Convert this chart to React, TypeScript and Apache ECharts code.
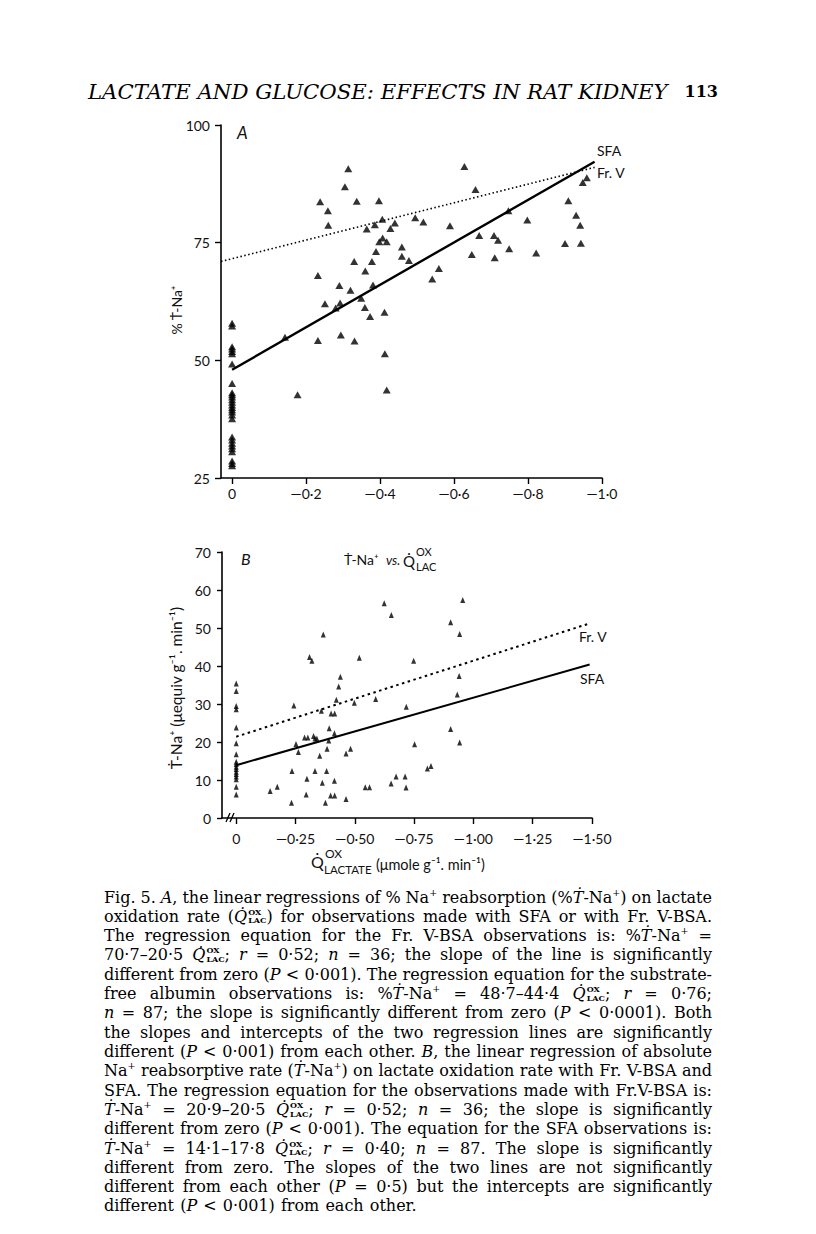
import React, { useEffect, useRef } from 'react';
import * as echarts from 'echarts';

// ---------- DATA ----------
const xTicksA = [0, -0.2, -0.4, -0.6, -0.8, -1.0];
const yTicksA = [25, 50, 75, 100];
const xTicksB = [0, -0.25, -0.5, -0.75, -1.0, -1.25, -1.5];
const yTicksB = [0, 10, 20, 30, 40, 50, 60, 70];

// Panel A: % T-Na+ observations at zero lactate oxidation
const zeroA = [57.9, 57.3, 52.9, 52.4, 51.9, 51.4, 49.2, 45.1, 43.1, 42.7, 42.2, 41.6, 41.1, 40.5, 40.0,
  39.5, 39.0, 38.4, 37.6, 33.7, 33.1, 32.4, 31.8, 31.2, 30.6, 28.6, 28.1, 27.6];
// Panel A: other observations [Q_LAC, %T-Na+]
const pointsA: [number, number][] = [
  [-0.314, 90.7], [-0.305, 86.9], [-0.238, 83.7], [-0.337, 83.8], [-0.397, 83.9], [-0.259, 81.8],
  [-0.26, 78.7], [-0.406, 80.0], [-0.386, 78.8], [-0.364, 77.9], [-0.428, 78.0], [-0.44, 79.2],
  [-0.495, 80.3], [-0.517, 79.4], [-0.407, 76.0], [-0.398, 75.2], [-0.418, 75.2], [-0.459, 74.1],
  [-0.459, 72.1], [-0.478, 71.2], [-0.389, 73.1], [-0.378, 71.0], [-0.33, 71.0], [-0.36, 69.0],
  [-0.232, 68.0], [-0.29, 65.9], [-0.32, 64.9], [-0.381, 66.0], [-0.349, 63.2], [-0.251, 62.0],
  [-0.292, 62.2], [-0.28, 61.1], [-0.359, 61.2], [-0.541, 67.3], [-0.373, 59.3], [-0.412, 60.2],
  [-0.143, 54.9], [-0.232, 54.2], [-0.294, 55.4], [-0.331, 54.1], [-0.413, 51.4], [-0.418, 43.7],
  [-0.177, 42.7], [-0.628, 91.2], [-0.658, 86.3], [-0.589, 78.6], [-0.747, 81.8], [-0.798, 79.8],
  [-0.668, 76.5], [-0.708, 76.5], [-0.719, 75.5], [-0.749, 73.7], [-0.648, 72.5], [-0.71, 71.8],
  [-0.822, 72.8], [-0.559, 69.5], [-0.909, 83.9], [-0.93, 80.8], [-0.941, 78.7], [-0.90, 74.8],
  [-0.943, 74.9], [-0.959, 88.8], [-0.948, 87.8],
];
const sfaLineA: [number, number][] = [[0, 48.0], [-0.98, 92.2]];
const frVLineA: [number, number][] = [[0.03, 71.0], [-0.98, 91.0]];

// Panel B: T-Na+ (µequiv/g/min) at zero lactate oxidation
const zeroB = [35.4, 33.4, 29.5, 28.6, 23.8, 19.7, 16.8, 14.8, 14.2, 13.5, 12.9, 12.2, 11.6, 10.9, 10.2, 8.2, 6.2];
// Panel B: other observations [Q_LAC, T-Na+]
const pointsB: [number, number][] = [
  [-0.309, 42.4], [-0.319, 41.4], [-0.367, 48.3], [-0.519, 42.2], [-0.439, 37.2], [-0.432, 34.6],
  [-0.422, 31.1], [-0.243, 29.6], [-0.498, 30.3], [-0.588, 31.3], [-0.624, 56.5], [-0.654, 53.4],
  [-0.955, 57.4], [-0.904, 51.5], [-0.942, 48.4], [-0.748, 41.4], [-0.94, 37.4], [-0.932, 32.5],
  [-0.717, 29.3], [-0.359, 28.2], [-0.40, 27.5], [-0.415, 27.5], [-0.392, 23.6], [-0.414, 22.3],
  [-0.288, 21.2], [-0.302, 21.2], [-0.326, 21.6], [-0.332, 20.9], [-0.34, 20.9], [-0.39, 20.4],
  [-0.252, 19.5], [-0.262, 17.4], [-0.383, 18.2], [-0.352, 16.4], [-0.463, 17.0], [-0.482, 18.2],
  [-0.235, 12.4], [-0.332, 12.4], [-0.381, 12.4], [-0.298, 10.3], [-0.363, 9.3], [-0.414, 9.8],
  [-0.143, 7.1], [-0.173, 8.2], [-0.295, 6.2], [-0.398, 5.9], [-0.415, 5.9], [-0.233, 4.0],
  [-0.463, 5.0], [-0.376, 4.0], [-0.544, 8.1], [-0.562, 8.1], [-0.653, 9.1], [-0.904, 23.4],
  [-0.942, 19.9], [-0.752, 19.4], [-0.806, 13.0], [-0.821, 13.7], [-0.674, 10.9], [-0.712, 10.9],
  [-0.716, 8.0],
];
const frVLineB: [number, number][] = [[0, 21.4], [-1.49, 51.2]];
const sfaLineB: [number, number][] = [[0, 13.9], [-1.49, 40.4]];

const headerText = 'LACTATE AND GLUCOSE: EFFECTS IN RAT KIDNEY';
const pageNumber = '113';

// caption: *italic*, ^superscript^, @Q = Q-dot with OX over LAC
const captionLines = [
  'Fig. 5. *A*, the linear regressions of % Na^+^ reabsorption (%*Ṫ*-Na^+^) on lactate',
  'oxidation rate (@Q) for observations made with SFA or with Fr. V-BSA.',
  'The regression equation for the Fr. V-BSA observations is: %*Ṫ*-Na^+^ =',
  '70·7–20·5 @Q; *r* = 0·52; *n* = 36; the slope of the line is significantly',
  'different from zero (*P* < 0·001). The regression equation for the substrate-',
  'free albumin observations is: %*Ṫ*-Na^+^ = 48·7–44·4 @Q; *r* = 0·76;',
  '*n* = 87; the slope is significantly different from zero (*P* < 0·0001). Both',
  'the slopes and intercepts of the two regression lines are significantly',
  'different (*P* < 0·001) from each other. *B*, the linear regression of absolute',
  'Na^+^ reabsorptive rate (*Ṫ*-Na^+^) on lactate oxidation rate with Fr. V-BSA and',
  'SFA. The regression equation for the observations made with Fr.V-BSA is:',
  '*Ṫ*-Na^+^ = 20·9–20·5 @Q; *r* = 0·52; *n* = 36; the slope is significantly',
  'different from zero (*P* < 0·001). The equation for the SFA observations is:',
  '*Ṫ*-Na^+^ = 14·1–17·8 @Q; *r* = 0·40; *n* = 87. The slope is significantly',
  'different from zero. The slopes of the two lines are not significantly',
  'different from each other (*P* = 0·5) but the intercepts are significantly',
  'different (*P* < 0·001) from each other.',
];

// ---------- LAYOUT HELPERS ----------
const SERIF = '"DejaVu Serif", "Liberation Serif", serif';
const SANS = 'Lato, "Open Sans", sans-serif';
const INK = '#111';

let measureCtx: CanvasRenderingContext2D | null = null;
function tw(text: string, size: number, style = 'normal', weight = 'normal', family = SERIF) {
  if (!measureCtx) measureCtx = document.createElement('canvas').getContext('2d');
  measureCtx!.font = `${style} ${weight} ${size}px ${family}`;
  return measureCtx!.measureText(text).width;
}

function txt(x: number, y: number, text: string, o: any = {}) {
  return {
    type: 'text',
    x,
    y,
    rotation: o.rotation || 0,
    silent: true,
    style: {
      text,
      fill: o.fill || INK,
      fontSize: o.size || 14,
      fontFamily: o.family || SANS,
      fontStyle: o.style || 'normal',
      fontWeight: o.weight || 'normal',
      textAlign: o.align || 'left',
      textVerticalAlign: 'middle',
      align: o.align || 'left',
      verticalAlign: 'middle',
    },
  };
}

type Piece = { t: string; k: 'n' | 'i' | 'sup' | 'q' };
function parseWord(w: string): Piece[] {
  const out: Piece[] = [];
  const re = /(\*[^*]+\*|\^[^^]+\^|@Q)/g;
  let last = 0;
  let m: RegExpExecArray | null;
  while ((m = re.exec(w))) {
    if (m.index > last) out.push({ t: w.slice(last, m.index), k: 'n' });
    const s = m[0];
    if (s === '@Q') out.push({ t: 'Q\u0307', k: 'q' });
    else if (s[0] === '*') out.push({ t: s.slice(1, -1), k: 'i' });
    else out.push({ t: s.slice(1, -1), k: 'sup' });
    last = m.index + s.length;
  }
  if (last < w.length) out.push({ t: w.slice(last), k: 'n' });
  return out;
}
const SUP = 0.6;
const STK = 0.5;
function pieceWidth(p: Piece, fs: number) {
  if (p.k === 'n') return tw(p.t, fs);
  if (p.k === 'i') return tw(p.t, fs, 'italic');
  if (p.k === 'sup') return tw(p.t, fs * SUP);
  return tw(p.t, fs, 'italic') + 1 + Math.max(tw('OX', fs * STK, 'normal', 'bold'), tw('LAC', fs * STK, 'normal', 'bold'));
}

function buildCaption(): any[] {
  const left = 104, right = 712, top = 897, step = 19.31;
  const W = right - left;
  const words = captionLines.map((l) => l.split(' ').map(parseWord));
  const wordW = (w: Piece[], fs: number) => w.reduce((s, p) => s + pieceWidth(p, fs), 0);
  let fs = 16;
  words.forEach((ws, i) => {
    if (i === words.length - 1) return;
    const sum = ws.reduce((s, w) => s + wordW(w, 15), 0);
    const fit = ((W - (ws.length - 1) * 4) / sum) * 15;
    fs = Math.min(fs, fit);
  });
  const els: any[] = [];
  words.forEach((ws, i) => {
    const y = top + i * step;
    const widths = ws.map((w) => wordW(w, fs));
    const sum = widths.reduce((a, b) => a + b, 0);
    const gap = i === words.length - 1 ? tw(' ', fs) * 1.2 : (W - sum) / (ws.length - 1);
    let x = left;
    ws.forEach((w, j) => {
      let px = x;
      w.forEach((p) => {
        if (p.k === 'n') els.push(txt(px, y, p.t, { size: fs, family: SERIF, fill: '#000' }));
        else if (p.k === 'i') els.push(txt(px, y, p.t, { size: fs, family: SERIF, style: 'italic', fill: '#000' }));
        else if (p.k === 'sup') els.push(txt(px, y - fs * 0.3, p.t, { size: fs * SUP, family: SERIF, fill: '#000' }));
        else {
          const qw = tw(p.t, fs, 'italic');
          els.push(txt(px, y, p.t, { size: fs, family: SERIF, style: 'italic', fill: '#000' }));
          els.push(txt(px + qw + 1, y - fs * 0.28, 'OX', { size: fs * STK, family: SERIF, weight: 'bold', fill: '#000' }));
          els.push(txt(px + qw + 1, y + fs * 0.26, 'LAC', { size: fs * STK, family: SERIF, weight: 'bold', fill: '#000' }));
        }
        px += pieceWidth(p, fs);
      });
      x += widths[j] + gap;
    });
  });
  return els;
}

function buildHeader(): any[] {
  const left = 88, right = 668;
  const size = (16 * (right - left)) / tw(headerText, 16, 'italic');
  return [
    txt(left, 91, headerText, { size, family: SERIF, style: 'italic', fill: '#000' }),
    txt(718, 91, pageNumber, { size: 16, family: SERIF, weight: 'bold', align: 'right', fill: '#000' }),
  ];
}

// ---------- CHART ----------
const fmtA = (v: number) => {
  if (!xTicksA.some((t) => Math.abs(t - v) < 1e-6)) return '';
  return Math.abs(v) < 1e-9 ? '0' : '—' + Math.abs(v).toFixed(1).replace('.', '·');
};
const fmtB = (v: number) => {
  if (!xTicksB.some((t) => Math.abs(t - v) < 1e-6)) return '';
  return Math.abs(v) < 1e-9 ? '0' : '—' + Math.abs(v).toFixed(2).replace('.', '·');
};

const axisLine = { onZero: false, lineStyle: { color: '#000', width: 1.6 } };
const tickStyle = { color: '#000', width: 1.4 };
const labelBase = { color: INK, fontFamily: SANS, fontSize: 14 };

function buildOption(): any {
  const scatterA = pointsA.concat(zeroA.map((v) => [0, v] as [number, number]));
  const scatterB = pointsB.concat(zeroB.map((v) => [0, v] as [number, number]));

  const graphics: any[] = [
    ...buildHeader(),
    // panel A annotations
    txt(237, 132, 'A', { size: 17, style: 'italic' }),
    txt(597, 150, 'SFA', { size: 14 }),
    txt(597, 172, 'Fr. V', { size: 14 }),
    txt(176, 310, '% Ṫ-Na⁺', { size: 14, rotation: Math.PI / 2, align: 'center' }),
    // panel B annotations
    txt(241, 558, 'B', { size: 16, style: 'italic' }),
    txt(344, 559, 'Ṫ-Na⁺', { size: 14 }),
    txt(386, 560, 'vs.', { size: 13, style: 'italic' }),
    txt(403, 561, 'Q̇', { size: 15 }),
    txt(416, 551, 'OX', { size: 11 }),
    txt(416, 566, 'LAC', { size: 11 }),
    txt(579, 636, 'Fr. V', { size: 14 }),
    txt(580, 678, 'SFA', { size: 14 }),
    txt(176, 688, 'Ṫ-Na⁺ (μequiv g⁻¹. min⁻¹)', { size: 15.5, rotation: Math.PI / 2, align: 'center' }),
    txt(311, 861, 'Q̇', { size: 16 }),
    txt(325, 853, 'OX', { size: 12 }),
    txt(324, 869, 'LACTATE', { size: 11.5 }),
    txt(376, 864, '(μmole g⁻¹. min⁻¹)', { size: 14.5 }),
    // axis break mark on panel B x-axis
    { type: 'line', silent: true, shape: { x1: 226, y1: 822, x2: 230, y2: 813 }, style: { stroke: '#000', lineWidth: 1.3 } },
    { type: 'line', silent: true, shape: { x1: 230, y1: 822, x2: 234, y2: 813 }, style: { stroke: '#000', lineWidth: 1.3 } },
    ...buildCaption(),
  ];

  return {
    animation: false,
    backgroundColor: '#fff',
    tooltip: { show: false },
    grid: [
      { left: 221, top: 125, width: 381, height: 353, containLabel: false, outerBoundsMode: 'none' },
      { left: 222, top: 552, width: 370, height: 266, containLabel: false, outerBoundsMode: 'none' },
    ],
    xAxis: [
      {
        gridIndex: 0, type: 'value', inverse: true, min: -1.0, max: 0.03, interval: 0.2,
        axisLine, splitLine: { show: false },
        axisTick: { show: true, length: 6, lineStyle: tickStyle, customValues: xTicksA },
        axisLabel: { ...labelBase, margin: 8, formatter: fmtA, customValues: xTicksA },
      },
      {
        gridIndex: 1, type: 'value', inverse: true, min: -1.5, max: 0.06, interval: 0.25,
        axisLine, splitLine: { show: false },
        axisTick: { show: true, length: 6, lineStyle: tickStyle, customValues: xTicksB },
        axisLabel: { ...labelBase, margin: 13, formatter: fmtB, customValues: xTicksB },
      },
    ],
    yAxis: [
      {
        gridIndex: 0, type: 'value', min: 25, max: 100, interval: 25,
        axisLine, splitLine: { show: false },
        axisTick: { show: true, length: 6, lineStyle: tickStyle, customValues: yTicksA },
        axisLabel: { ...labelBase, margin: 11, customValues: yTicksA },
      },
      {
        gridIndex: 1, type: 'value', min: 0, max: 70, interval: 10,
        axisLine, splitLine: { show: false },
        axisTick: { show: true, length: 5, lineStyle: tickStyle, customValues: yTicksB },
        axisLabel: { ...labelBase, margin: 11, customValues: yTicksB },
      },
    ],
    series: [
      {
        type: 'scatter', xAxisIndex: 0, yAxisIndex: 0, data: scatterA, symbol: 'triangle',
        symbolSize: [8, 7], itemStyle: { color: '#000' }, silent: true,
      },
      {
        type: 'line', xAxisIndex: 0, yAxisIndex: 0, data: sfaLineA, symbol: 'none', silent: true,
        lineStyle: { color: '#000', width: 2.4 },
      },
      {
        type: 'line', xAxisIndex: 0, yAxisIndex: 0, data: frVLineA, symbol: 'none', silent: true,
        lineStyle: { color: '#000', width: 1.6, type: [1.5, 2.5] },
      },
      {
        type: 'scatter', xAxisIndex: 1, yAxisIndex: 1, data: scatterB, symbol: 'triangle',
        symbolSize: [5, 6], itemStyle: { color: '#000' }, silent: true,
      },
      {
        type: 'line', xAxisIndex: 1, yAxisIndex: 1, data: sfaLineB, symbol: 'none', silent: true,
        lineStyle: { color: '#000', width: 2 },
      },
      {
        type: 'line', xAxisIndex: 1, yAxisIndex: 1, data: frVLineB, symbol: 'none', silent: true,
        lineStyle: { color: '#000', width: 2, type: [2.5, 3.5] },
      },
    ],
    graphic: { elements: graphics },
  };
}

export default function App() {
  const ref = useRef<HTMLDivElement>(null);
  useEffect(() => {
    if (!ref.current) return;
    const chart = echarts.init(ref.current, null, { renderer: 'svg' });
    chart.setOption(buildOption());
    return () => chart.dispose();
  }, []);
  return (
    <div
      ref={ref}
      style={{ position: 'absolute', left: 0, top: 0, width: 816, height: 1234, background: '#fff' }}
    />
  );
}
